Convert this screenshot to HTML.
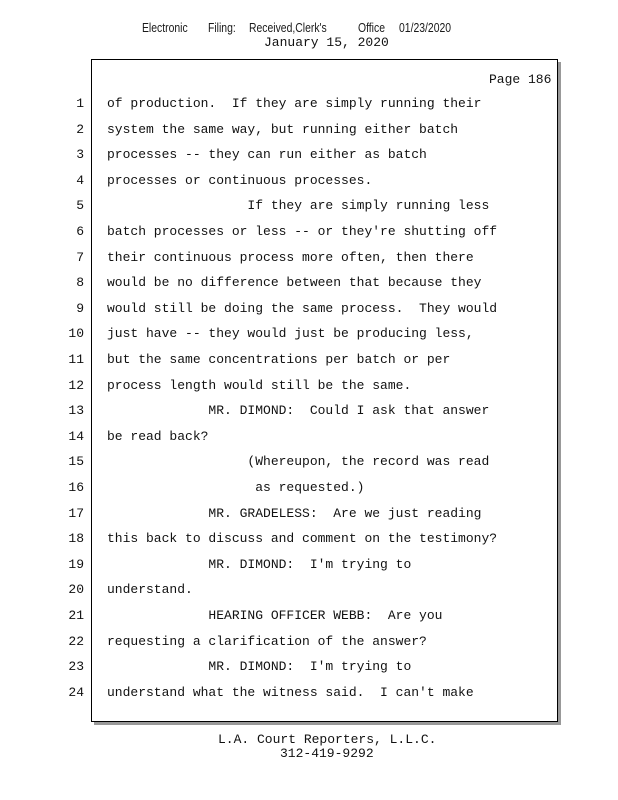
<!DOCTYPE html>
<html><head><style>
body{margin:0;width:618px;height:800px;background:#fff;position:relative;overflow:hidden;font-family:"Liberation Mono",monospace;font-size:13px;color:#111}
.t{position:absolute;white-space:pre;line-height:16px}
.n{position:absolute;left:50px;width:34px;text-align:right;line-height:16px}
.h{position:absolute;top:20px;font-family:"Liberation Sans",sans-serif;font-size:13px;line-height:16px;transform:scaleX(0.8);transform-origin:left;color:#1a1a1a}
#box{position:absolute;left:91px;top:59px;width:465px;height:661px;border:1px solid #000;background:#fff;box-shadow:3px 3px 0 #999}
</style></head><body>
<span class="h" style="left:142px">Electronic</span>
<span class="h" style="left:208px">Filing:</span>
<span class="h" style="left:249px">Received,Clerk's</span>
<span class="h" style="left:358px">Office</span>
<span class="h" style="left:399px">01/23/2020</span>
<div class="t" style="left:264px;top:35px">January 15, 2020</div>
<div id="box"></div>
<div class="t" style="left:489px;top:72px">Page 186</div>
<div class="n" style="top:96px">1</div><div class="t" style="left:107px;top:96px">of production.  If they are simply running their</div>
<div class="n" style="top:121.6px">2</div><div class="t" style="left:107px;top:121.6px">system the same way, but running either batch</div>
<div class="n" style="top:147.2px">3</div><div class="t" style="left:107px;top:147.2px">processes -- they can run either as batch</div>
<div class="n" style="top:172.8px">4</div><div class="t" style="left:107px;top:172.8px">processes or continuous processes.</div>
<div class="n" style="top:198.4px">5</div><div class="t" style="left:107px;top:198.4px">                  If they are simply running less</div>
<div class="n" style="top:224px">6</div><div class="t" style="left:107px;top:224px">batch processes or less -- or they're shutting off</div>
<div class="n" style="top:249.6px">7</div><div class="t" style="left:107px;top:249.6px">their continuous process more often, then there</div>
<div class="n" style="top:275.2px">8</div><div class="t" style="left:107px;top:275.2px">would be no difference between that because they</div>
<div class="n" style="top:300.8px">9</div><div class="t" style="left:107px;top:300.8px">would still be doing the same process.  They would</div>
<div class="n" style="top:326.4px">10</div><div class="t" style="left:107px;top:326.4px">just have -- they would just be producing less,</div>
<div class="n" style="top:352px">11</div><div class="t" style="left:107px;top:352px">but the same concentrations per batch or per</div>
<div class="n" style="top:377.6px">12</div><div class="t" style="left:107px;top:377.6px">process length would still be the same.</div>
<div class="n" style="top:403.2px">13</div><div class="t" style="left:107px;top:403.2px">             MR. DIMOND:  Could I ask that answer</div>
<div class="n" style="top:428.8px">14</div><div class="t" style="left:107px;top:428.8px">be read back?</div>
<div class="n" style="top:454.4px">15</div><div class="t" style="left:107px;top:454.4px">                  (Whereupon, the record was read</div>
<div class="n" style="top:480px">16</div><div class="t" style="left:107px;top:480px">                   as requested.)</div>
<div class="n" style="top:505.6px">17</div><div class="t" style="left:107px;top:505.6px">             MR. GRADELESS:  Are we just reading</div>
<div class="n" style="top:531.2px">18</div><div class="t" style="left:107px;top:531.2px">this back to discuss and comment on the testimony?</div>
<div class="n" style="top:556.8px">19</div><div class="t" style="left:107px;top:556.8px">             MR. DIMOND:  I'm trying to</div>
<div class="n" style="top:582.4px">20</div><div class="t" style="left:107px;top:582.4px">understand.</div>
<div class="n" style="top:608px">21</div><div class="t" style="left:107px;top:608px">             HEARING OFFICER WEBB:  Are you</div>
<div class="n" style="top:633.6px">22</div><div class="t" style="left:107px;top:633.6px">requesting a clarification of the answer?</div>
<div class="n" style="top:659.2px">23</div><div class="t" style="left:107px;top:659.2px">             MR. DIMOND:  I'm trying to</div>
<div class="n" style="top:684.8px">24</div><div class="t" style="left:107px;top:684.8px">understand what the witness said.  I can't make</div>
<div class="t" style="left:218px;top:732px">L.A. Court Reporters, L.L.C.</div>
<div class="t" style="left:280px;top:746px">312-419-9292</div>
</body></html>
